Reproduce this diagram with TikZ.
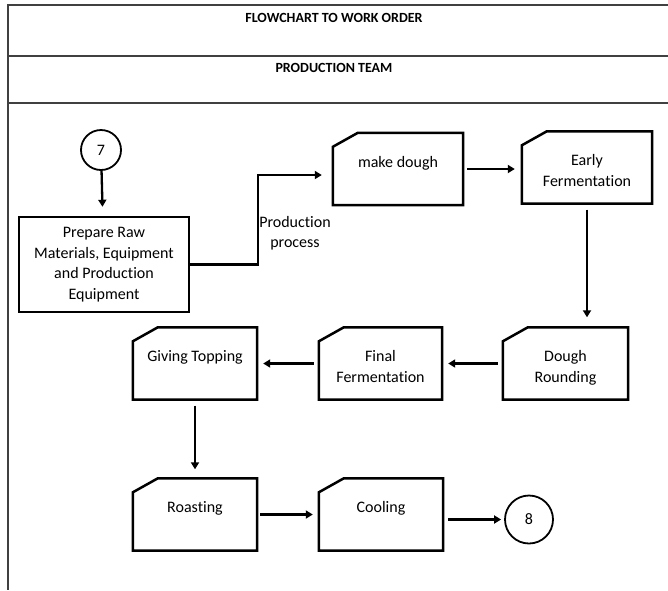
\documentclass[tikz,border=0pt]{standalone}
\usepackage{fontspec}
\setmainfont{Carlito}[Ligatures=NoCommon]
\usetikzlibrary{positioning,arrows.meta}
\newcommand{\bodyfont}{\fontsize{16}{20.5}\selectfont}
\newcommand{\headfont}{\fontsize{14}{17}\selectfont\bfseries}
\newcommand{\cardtext}[2][124pt]{\parbox[c][72pt][t]{#1}{\vspace*{20pt}\centering\strut#2}}
\tikzset{
  frame/.style={line width=1.4pt,draw=black!75},
  card/.style={inner sep=0pt,font=\bodyfont},
  cardline/.style={line width=2.5pt,line join=miter},
  box/.style={rectangle,draw,line width=2.5pt,align=center,minimum width=170pt,minimum height=95pt,inner sep=0pt,font=\bodyfont},
  connector/.style={circle,draw,line width=1.8pt,inner sep=0pt,font=\bodyfont},
  arrow/.style={-{Triangle[length=7pt,width=8pt]},line width=2.3pt,shorten <=5pt,shorten >=6pt}
}

\begin{document}
\begin{tikzpicture}[x=1pt,y=-1pt]
\useasboundingbox (0,0) rectangle (668,590);

% frame and headings
\draw[frame] (668,5) -- (8,5) -- (8,590);
\draw[frame] (8,56) -- (668,56);
\draw[frame] (8,103) -- (668,103);
\node[font=\headfont] (title) at (334,18) {FLOWCHART TO WORK ORDER};
\node[font=\headfont] (team) at (334,68) {PRODUCTION TEAM};

% steps
\node[connector,minimum size=40pt] (c7) at (101,150) {7};
\node[box] (prep) at (104,264.5) {Prepare Raw\\Materials, Equipment\\and Production\\Equipment};
\node[card] (dough) at (398,169) {\cardtext[130pt]{make dough}};
\node[card] (early) at (587,167.5) {\cardtext[130pt]{Early\\Fermentation}};
\node[card] (rounding) at (565.5,363.5) {\cardtext[125pt]{Dough\\Rounding}};
\node[card] (final) at (380.5,363.5) {\cardtext[123pt]{Final\\Fermentation}};
\node[card] (topping) at (195,363.5) {\cardtext{Giving Topping}};
\node[card] (roasting) at (195,514.5) {\cardtext{Roasting}};
\node[card] (cooling) at (381,514.5) {\cardtext{Cooling}};
\node[connector,minimum size=48pt] (c8) at (529,519.5) {8};
\node[font=\bodyfont,align=center] (proc) at (295,233) {Production\\process};

% cut-corner outlines
\foreach \n in {dough,early,rounding,final,topping,roasting,cooling}
  \draw[cardline] ([xshift=25pt]\n.north west) -- (\n.north east) -- (\n.south east)
    -- (\n.south west) -- ([yshift=-14pt]\n.north west) -- cycle;

% flow
\draw[arrow,shorten <=0pt,shorten >=9pt] (c7) -- (prep);
\draw[arrow,shorten <=0pt,shorten >=11pt] (prep.east) -- ++(68,0) |- ([yshift=-6pt]dough.west);
\draw[arrow,shorten <=4pt,shorten >=7pt] (dough.east) -- (dough.east -| early.west);
\draw[arrow,shorten <=6pt,shorten >=10pt] (early) -- (early |- rounding.north);
\draw[arrow] (rounding) -- (final);
\draw[arrow] (final) -- (topping);
\draw[arrow,shorten <=6pt,shorten >=9pt] (topping) -- (roasting);
\draw[arrow,shorten <=3pt] (roasting) -- (cooling);
\draw[arrow,shorten >=3pt] (cooling.east |- c8) -- (c8);

\end{tikzpicture}
\end{document}
